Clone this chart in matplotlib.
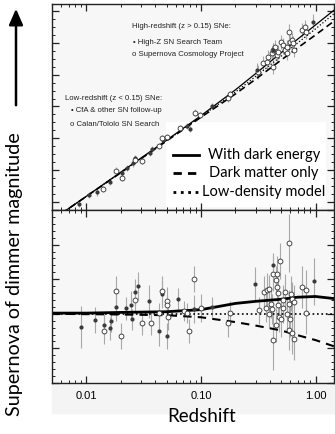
import numpy as np
import matplotlib
matplotlib.use("Agg")
import matplotlib.pyplot as plt
from matplotlib.ticker import MultipleLocator, FixedLocator, NullFormatter
from matplotlib.patches import Rectangle, FancyArrowPatch

# ---- data ----
# model curves, top panel (magnitude) and bottom panel (residual vs low-density)
z_model = [0.005, 0.01, 0.02, 0.05, 0.1, 0.2, 0.3, 0.5, 0.7, 1.0, 1.45]
m_dark_energy = [12.84, 14.34, 15.86, 17.87, 19.42, 21.05, 22.07, 23.38, 24.25, 25.14, 26.07]
m_low_density = [12.84, 14.33, 15.84, 17.84, 19.36, 20.91, 21.89, 23.16, 24.01, 24.89, 25.85]
m_dark_matter = [12.84, 14.33, 15.83, 17.82, 19.32, 20.79, 21.72, 22.92, 23.70, 24.51, 25.38]
dm_dark_energy = [0.01, 0.01, 0.02, 0.03, 0.06, 0.15, 0.18, 0.21, 0.24, 0.25, 0.22]
dm_low_density = [0.0, 0.0, 0.0, 0.0, 0.0, 0.0, 0.0, 0.0, 0.0, 0.0, 0.0]
dm_dark_matter = [0.0, -0.005, -0.01, -0.02, -0.05, -0.12, -0.17, -0.24, -0.31, -0.38, -0.47]

# top panel: Hubble diagram points
top_cfa_z = [0.00865, 0.0106, 0.0123, 0.0160, 0.0203, 0.0224, 0.0256, 0.0265, 0.0359, 0.0371, 0.0469, 0.075, 0.0802, 0.124]
top_cfa_m = [13.85, 14.41, 14.58, 15.25, 15.78, 16.10, 16.41, 16.73, 17.08, 17.30, 17.88, 18.77, 18.56, 20.03]
top_ct_z = [0.0140, 0.0180, 0.0203, 0.0265, 0.0303, 0.0432, 0.0454, 0.0501, 0.0656, 0.0887, 0.098, 0.173, 0.179]
top_ct_m = [14.79, 15.95, 15.50, 16.62, 16.56, 17.50, 17.99, 18.07, 18.62, 19.61, 19.46, 20.51, 20.77]
top_team_z = [0.307, 0.428, 0.958]
top_team_m = [22.30, 23.56, 25.35]
top_scp_z = [0.316, 0.350, 0.375, 0.387, 0.414, 0.428, 0.423, 0.443, 0.458, 0.473, 0.497, 0.524,
             0.542, 0.560, 0.567, 0.590, 0.599, 0.620, 0.640, 0.649, 0.757, 0.810, 0.825]
top_scp_m = [22.19, 22.72, 22.82, 23.10, 23.35, 23.56, 22.51, 23.77, 23.25, 23.45, 24.08, 23.88,
             23.56, 23.77, 23.35, 24.72, 24.08, 24.19, 23.98, 23.56, 24.82, 25.03, 24.72]
top_lowz_err = 0.2
top_highz_err = 0.45

# bottom panel: residuals
cfa_z = [0.0089, 0.0119, 0.0142, 0.0163, 0.0160, 0.0182, 0.0223, 0.0243, 0.0249, 0.0265, 0.0282,
         0.0353, 0.0432, 0.0454, 0.0501, 0.0626, 0.0874, 0.125]
cfa_dm = [-0.19, -0.09, -0.16, -0.11, -0.21, 0.10, 0.08, 0.13, -0.08, 0.31, 0.40,
          0.18, -0.25, 0.28, -0.32, 0.21, 0.07, 0.10]
cfa_err = [0.30, 0.19, 0.15, 0.15, 0.17, 0.20, 0.17, 0.20, 0.15, 0.20, 0.20,
           0.24, 0.22, 0.20, 0.19, 0.17, 0.20, 0.15]
ct_z = [0.0142, 0.0182, 0.0201, 0.0264, 0.0303, 0.0364, 0.0432, 0.0454, 0.0501, 0.0501, 0.0518,
        0.0711, 0.0759, 0.0791, 0.0874, 0.101, 0.171, 0.180]
ct_dm = [-0.25, 0.33, -0.32, 0.20, -0.13, -0.13, 0.01, 0.33, 0.19, 0.12, -0.05,
         0.04, 0.01, -0.25, 0.50, 0.08, -0.14, 0.01]
ct_err = [0.19, 0.21, 0.19, 0.19, 0.17, 0.17, 0.15, 0.21, 0.20, 0.15, 0.19,
          0.15, 0.15, 0.17, 0.19, 0.20, 0.19, 0.17]
team_z = [0.298, 0.428, 0.964]
team_dm = [0.43, 0.71, 0.47]
team_err = [0.24, 0.17, 0.34]
scp_z = [0.319, 0.353, 0.379, 0.390, 0.372, 0.393, 0.409, 0.414, 0.423, 0.428, 0.463, 0.452,
         0.458, 0.452, 0.473, 0.473, 0.483, 0.490, 0.497, 0.517, 0.542, 0.524, 0.567, 0.583,
         0.583, 0.590, 0.607, 0.620, 0.620, 0.599, 0.649, 0.653, 0.757, 0.820, 0.820]
scp_dm = [0.05, 0.32, 0.35, 0.36, 0.08, 0.00, 0.14, 0.07, -0.38, 0.58, 0.58, 0.49,
          0.39, -0.16, 0.30, 0.13, -0.05, 0.77, -0.08, 0.20, 0.32, 0.08, -0.01, 0.14,
          1.02, -0.23, 0.29, 0.21, -0.28, -0.08, 0.17, -0.37, 0.39, 0.34, 0.01]
scp_err = [0.20, 0.22, 0.24, 0.20, 0.20, 0.20, 0.20, 0.22, 0.43, 0.25, 0.25, 0.20,
           0.22, 0.25, 0.20, 0.22, 0.22, 0.26, 0.25, 0.22, 0.25, 0.22, 0.25, 0.20,
           0.42, 0.30, 0.25, 0.25, 0.30, 0.25, 0.25, 0.30, 0.30, 0.30, 0.30]

xtick_vals = [0.01, 0.1, 1.0]
xtick_labels = ["0.01", "0.10", "1.00"]
legend_labels = ["With dark energy", "Dark matter only", "Low-density model"]

W, H = 335, 434
fig = plt.figure(figsize=(W / 100, H / 100), dpi=100)
fig.patch.set_facecolor("white")

def px_axes(x0, y0, x1, y1):
    return fig.add_axes([x0 / W, 1 - y1 / H, (x1 - x0) / W, (y1 - y0) / H])

ax1 = px_axes(52, 4, 334, 210)
ax2 = px_axes(52, 210, 334, 383)

# light band behind the tick labels
fig.patches.append(Rectangle((52 / W, 1 - 413 / H), (W - 52) / W, 30 / H,
                             transform=fig.transFigure, color="#f4f4f4", zorder=-5))

bar_col = "#a8a8a8"
dot_col = "#3a3a3a"

def draw_points(ax, z, v, err, filled):
    ax.errorbar(z, v, yerr=err, fmt="none", ecolor=bar_col, elinewidth=0.8, capsize=0, zorder=1)
    if filled:
        ax.plot(z, v, "o", ms=2.0, color=dot_col, mec=dot_col, zorder=4)
    else:
        ax.plot(z, v, "o", ms=3.5, mfc="white", mec="#303030", mew=0.6, zorder=4)

# ---- top panel ----
# legend box sits under the data
ax1.add_patch(Rectangle(((166 - 52) / 282, (210 - 207) / 206), (326 - 166) / 282, (207 - 122) / 206,
                        transform=ax1.transAxes, facecolor="white", edgecolor="none", zorder=0.5))
draw_points(ax1, top_cfa_z, top_cfa_m, top_lowz_err, True)
draw_points(ax1, top_ct_z, top_ct_m, top_lowz_err, False)
draw_points(ax1, top_scp_z, top_scp_m, top_highz_err, False)
draw_points(ax1, top_team_z, top_team_m, top_highz_err, True)
ax1.plot(z_model, m_dark_energy, "-", color="black", lw=0.9, zorder=3)
ax1.plot(z_model, m_low_density, ":", color="black", lw=0.9, zorder=3)
ax1.plot(z_model, m_dark_matter, "--", color="black", lw=1.2, dashes=(4, 2.5), zorder=3)
ax1.set_ylim(13.47, 26.46)
ax1.yaxis.set_major_locator(MultipleLocator(2))
ax1.yaxis.set_minor_locator(MultipleLocator(0.5))

# annotations
small = dict(fontsize=5.6, family="Liberation Sans", color="#222222", va="center")
fig.text(132 / W, 1 - 26 / H, "High-redshift (z > 0.15) SNe:", **small)
fig.text(133 / W, 1 - 42 / H, "\u2022 High-Z SN Search Team", **small)
fig.text(132 / W, 1 - 55 / H, "o Supernova Cosmology Project", **small)
fig.text(65 / W, 1 - 98 / H, "Low-redshift (z < 0.15) SNe:", **small)
fig.text(71 / W, 1 - 110 / H, "\u2022 CfA & other SN follow-up", **small)
fig.text(70 / W, 1 - 125 / H, "o Calan/Tololo SN Search", **small)

styles = [dict(ls="-"), dict(ls="--", dashes=(3, 2.2)), dict(ls=":")]
rows_y = [155, 173, 192]
for lab, st, yy in zip(legend_labels, styles, rows_y):
    ya = (210 - yy) / 206
    ax1.plot([(173 - 52) / 282, (199 - 52) / 282], [ya, ya], color="black", lw=2,
             transform=ax1.transAxes, zorder=6, **st)
    ax1.text((264 - 52) / 282, ya, lab, transform=ax1.transAxes, ha="center", va="center",
             fontsize=10.5, family="Lato", zorder=7)

# ---- bottom panel ----
draw_points(ax2, cfa_z, cfa_dm, cfa_err, True)
draw_points(ax2, ct_z, ct_dm, ct_err, False)
draw_points(ax2, scp_z, scp_dm, scp_err, False)
draw_points(ax2, team_z, team_dm, team_err, True)
ax2.plot(z_model, dm_low_density, ":", color="black", lw=1.2, zorder=2)
ax2.plot(z_model, dm_dark_matter, "--", color="black", lw=1.5, dashes=(4, 3), zorder=2)
ax2.plot(z_model, dm_dark_energy, "-", color="black", lw=2.0, zorder=2)
ax2.set_ylim(-1.0, 1.5)
ax2.yaxis.set_major_locator(MultipleLocator(0.5))
ax2.yaxis.set_minor_locator(MultipleLocator(0.1))

for ax in (ax1, ax2):
    ax.set_xscale("log")
    ax.set_xlim(0.005, 1.45)
    ax.set_facecolor("#f7f7f7")
    ax.tick_params(which="both", direction="in", top=True, right=True, color="#222222")
    ax.tick_params(which="major", length=5, width=0.9)
    ax.tick_params(which="minor", length=2.5, width=0.7)
    ax.yaxis.set_major_formatter(NullFormatter())
    ax.yaxis.set_minor_formatter(NullFormatter())
    ax.xaxis.set_minor_formatter(NullFormatter())
    for s in ax.spines.values():
        s.set_color("#222222")
        s.set_linewidth(1.0)

ax1.xaxis.set_major_formatter(NullFormatter())
ax2.xaxis.set_major_locator(FixedLocator(xtick_vals))
ax2.set_xticklabels(xtick_labels, fontsize=8, family="Liberation Sans")
ax2.tick_params(axis="x", which="major", pad=6)

fig.text(202 / W, 1 - 416 / H, "Redshift", ha="center", va="center", fontsize=13.5, family="Lato")

# y label with arrow
fig.text(15 / W, 1 - 274 / H, "Supernova of dimmer magnitude", rotation=90, ha="center",
         va="center", fontsize=14.2, family="Lato")
fig.add_artist(FancyArrowPatch(
    (16 / W, 1 - 108 / H), (16 / W, 1 - 6 / H), transform=fig.transFigure,
    arrowstyle="-|>,head_length=0.8,head_width=0.35", mutation_scale=12,
    color="black", lw=1.8))

fig.savefig("out.png", dpi=100)
